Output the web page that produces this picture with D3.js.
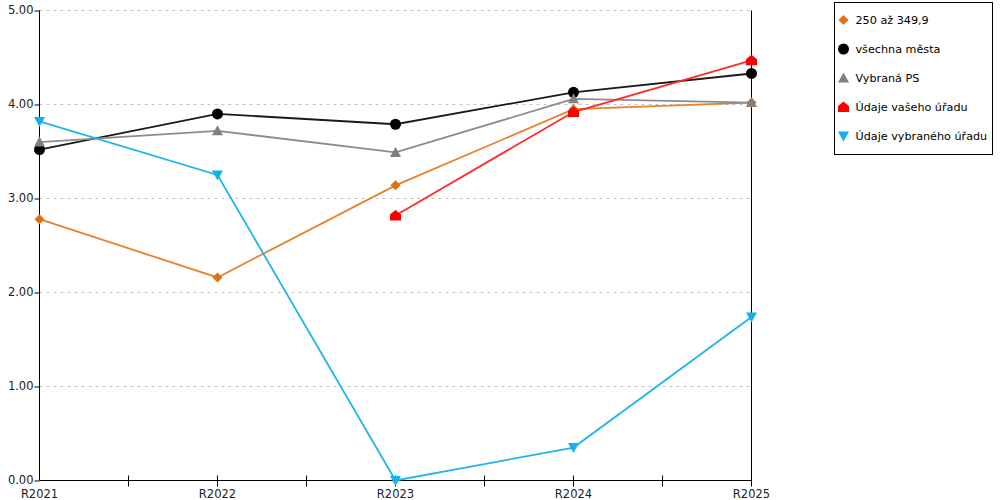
<!DOCTYPE html>
<html>
<head>
<meta charset="utf-8">
<script src="https://cdn.jsdelivr.net/npm/d3@7"></script>
<style>
  body { margin: 0; background: #fff; }
  svg { font-family: "DejaVu Sans", Verdana, sans-serif; }
</style>
</head>
<body>
<svg width="1000" height="500"></svg>
<script>
const categories = ["R2021", "R2022", "R2023", "R2024", "R2025"];
const yTicks = [0, 1, 2, 3, 4, 5];

const rangeValues = [2.78, 2.16, 3.14, 3.95, 4.02];
const allCitiesValues = [3.52, 3.90, 3.79, 4.13, 4.33];
const selectedPsValues = [3.60, 3.72, 3.49, 4.06, 4.02];
const yourOfficeValues = [null, null, 2.82, 3.92, 4.47];
const selectedOfficeValues = [3.82, 3.25, 0.00, 0.35, 1.74];

const series = [
    { name: "250 až 349,9", values: rangeValues, line: "#e8822a", fill: "#e07010", symbol: "diamond" },
    { name: "všechna města", values: allCitiesValues, line: "#1a1a1a", fill: "#000000", symbol: "circle" },
    { name: "Vybraná PS", values: selectedPsValues, line: "#8c8c8c", fill: "#808080", symbol: "triangle" },
    { name: "Údaje vašeho úřadu", values: yourOfficeValues, line: "#ff2a2a", fill: "#ff0000", symbol: "house" },
    { name: "Údaje vybraného úřadu", values: selectedOfficeValues, line: "#22b4ea", fill: "#12b0ee", symbol: "down" }
];

const svg = d3.select("svg"),
    margin = { top: 10, right: 249, bottom: 20, left: 39 },
    width = +svg.attr("width") - margin.left - margin.right,
    height = +svg.attr("height") - margin.top - margin.bottom,
    g = svg.append("g").attr("transform", `translate(${margin.left + 0.5},${margin.top + 0.5})`);

const x = d3.scalePoint().domain(categories).range([0, width]),
    y = d3.scaleLinear().domain([0, 5]).range([height, 0]);

function markerPath(symbol) {
    switch (symbol) {
        case "diamond": return "M0,-5L5,0L0,5L-5,0Z";
        case "circle": return d3.symbol(d3.symbolCircle, 95)();
        case "triangle": return "M0,-5.5L5.5,4.5L-5.5,4.5Z";
        case "house": return "M0,-5.5L5.5,-1L5.5,5L-5.5,5L-5.5,-1Z";
        case "down": return "M-5.5,-4.5L5.5,-4.5L0,5.5Z";
    }
}

// grid
g.append("g").selectAll("line")
    .data(yTicks.filter(d => d > 0))
    .enter().append("line")
    .attr("x1", 0).attr("x2", width)
    .attr("y1", d => y(d)).attr("y2", d => y(d))
    .attr("stroke", "#c4c4c4")
    .attr("stroke-dasharray", "3,4");

// y axis
const yAxis = g.append("g")
    .call(d3.axisLeft(y).tickValues(yTicks).tickFormat(d3.format(".2f")).tickSize(5));
yAxis.attr("font-family", null);
yAxis.select(".domain").attr("stroke", "#000").attr("d", `M0,0V${height}`);
yAxis.selectAll(".tick line").attr("stroke", "#000");
yAxis.selectAll("text").attr("font-size", 11.5).attr("fill", "#222").attr("x", -6).attr("dy", "0.3em");

// right line
g.append("line")
    .attr("x1", width).attr("x2", width)
    .attr("y1", 0).attr("y2", height)
    .attr("stroke", "#000");

// x axis with ticks at categories and midpoints
const step = x.step();
const xTickPos = d3.range(0, categories.length * 2 - 1).map(i => i * step / 2);
const xAxisG = g.append("g").attr("transform", `translate(0,${height})`);
xAxisG.append("line").attr("x1", 0).attr("x2", width).attr("stroke", "#000");
xAxisG.selectAll(".tick").data(xTickPos.slice(1))
    .enter().append("line")
    .attr("x1", d => d).attr("x2", d => d)
    .attr("y1", -5).attr("y2", 6)
    .attr("stroke", "#000");
xAxisG.selectAll("text").data(categories)
    .enter().append("text")
    .attr("x", d => x(d))
    .attr("y", 17.5)
    .attr("text-anchor", "middle")
    .attr("font-size", 11.5)
    .attr("fill", "#222")
    .text(d => d);

// lines
const line = d3.line()
    .defined(d => d.v !== null)
    .x(d => x(d.c))
    .y(d => y(d.v));

series.forEach(s => {
    const pts = categories.map((c, i) => ({ c: c, v: s.values[i] }));
    g.append("path")
        .datum(pts)
        .attr("fill", "none")
        .attr("stroke", s.line)
        .attr("stroke-width", 1.8)
        .attr("d", line);
});

series.forEach(s => {
    const pts = categories.map((c, i) => ({ c: c, v: s.values[i] })).filter(d => d.v !== null);
    g.selectAll(null).data(pts)
        .enter().append("path")
        .attr("transform", d => `translate(${x(d.c)},${y(d.v)})`)
        .attr("d", markerPath(s.symbol))
        .attr("fill", s.fill);
});

// legend
const legend = svg.append("g").attr("transform", "translate(834.5,2.5)");
legend.append("rect")
    .attr("width", 158).attr("height", 152)
    .attr("fill", "#fff").attr("stroke", "#000");
const item = legend.selectAll(".legend-item")
    .data(series)
    .enter().append("g")
    .attr("transform", (d, i) => `translate(9,${17.5 + i * 29})`);
item.append("path")
    .attr("d", d => markerPath(d.symbol))
    .attr("fill", d => d.fill);
item.append("text")
    .attr("x", 12)
    .attr("y", 4)
    .attr("font-size", 11.2)
    .attr("fill", "#000")
    .text(d => d.name);
</script>
</body>
</html>
